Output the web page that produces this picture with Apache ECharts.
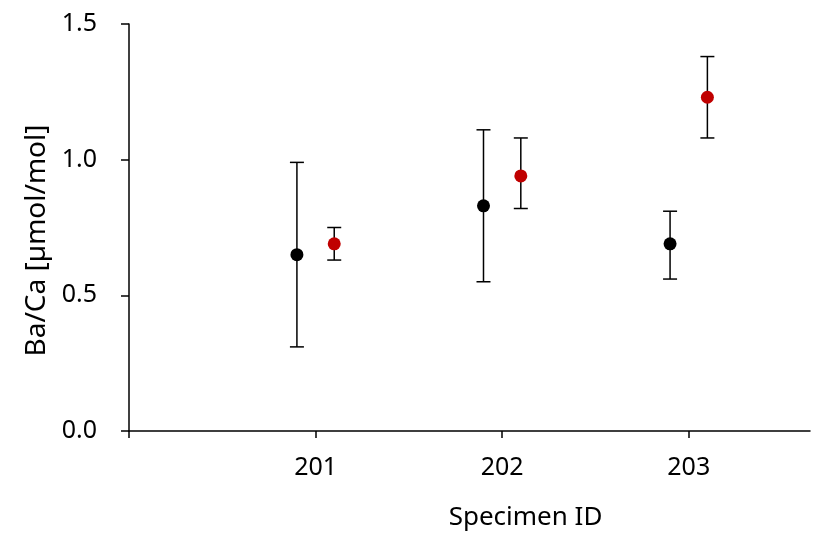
<!DOCTYPE html>
<html>
<head>
<meta charset="utf-8">
<script src="https://cdn.jsdelivr.net/npm/echarts@6/dist/echarts.min.js"></script>
<style>
  html, body { margin: 0; padding: 0; background: #fff; }
  #chart { width: 815px; height: 539px; }
</style>
</head>
<body>
<div id="chart"></div>
<script>
// specimen ids and Ba/Ca values (mean, lower and upper error bar ends)
const specimens = [201, 202, 203];
const blackMean = [0.65, 0.83, 0.69];
const blackLow = [0.31, 0.55, 0.56];
const blackHigh = [0.99, 1.11, 0.81];
const redMean = [0.69, 0.94, 1.23];
const redLow = [0.63, 0.82, 1.08];
const redHigh = [0.75, 1.08, 1.38];
const yTicks = [0, 0.5, 1.0, 1.5];

const shift = 0.1; // black left of the id, red right of it

const blackPts = specimens.map((s, i) => [s - shift, blackMean[i]]);
const redPts = specimens.map((s, i) => [s + shift, redMean[i]]);
const blackErr = specimens.map((s, i) => [s - shift, blackLow[i], blackHigh[i]]);
const redErr = specimens.map((s, i) => [s + shift, redLow[i], redHigh[i]]);

const font = 'Noto Sans';

function errorBar(params, api) {
  const x = api.value(0);
  const lo = api.coord([x, api.value(1)]);
  const hi = api.coord([x, api.value(2)]);
  const w = 7;
  const style = { stroke: '#000', lineWidth: 1.5 };
  return {
    type: 'group',
    children: [
      { type: 'line', shape: { x1: lo[0], y1: lo[1], x2: hi[0], y2: hi[1] }, style },
      { type: 'line', shape: { x1: hi[0] - w, y1: hi[1], x2: hi[0] + w, y2: hi[1] }, style },
      { type: 'line', shape: { x1: lo[0] - w, y1: lo[1], x2: lo[0] + w, y2: lo[1] }, style }
    ]
  };
}

const chart = echarts.init(document.getElementById('chart'));
chart.setOption({
  animation: false,
  backgroundColor: '#fff',
  grid: { left: 129, top: 24, right: 5, bottom: 108 },
  xAxis: {
    type: 'value',
    min: 200,
    max: 203.65,
    interval: 1,
    name: 'Specimen ID',
    nameLocation: 'middle',
    nameGap: 74,
    nameTextStyle: { fontFamily: font, fontSize: 26, color: '#000', padding: [0, 0, 0, 112] },
    axisLine: { lineStyle: { color: '#000', width: 1.5 } },
    axisTick: { show: true, length: 7, lineStyle: { color: '#000', width: 1.5 }, customValues: [200].concat(specimens) },
    axisLabel: { customValues: specimens, fontFamily: font, fontSize: 25, color: '#000', margin: 24 },
    splitLine: { show: false }
  },
  yAxis: {
    type: 'value',
    min: yTicks[0],
    max: yTicks[yTicks.length - 1],
    interval: 0.5,
    name: 'Ba/Ca [µmol/mol]',
    nameLocation: 'middle',
    nameGap: 78,
    nameTextStyle: { fontFamily: font, fontSize: 28, color: '#000', padding: [0, 26, 0, 0] },
    axisLine: { show: true, lineStyle: { color: '#000', width: 1.5 } },
    axisTick: { show: true, length: 8, lineStyle: { color: '#000', width: 1.5 } },
    axisLabel: { fontFamily: font, fontSize: 25, color: '#000', margin: 32, formatter: v => v.toFixed(1) },
    splitLine: { show: false }
  },
  series: [
    { type: 'custom', renderItem: errorBar, data: blackErr, encode: { x: 0, y: [1, 2] }, z: 1 },
    { type: 'custom', renderItem: errorBar, data: redErr, encode: { x: 0, y: [1, 2] }, z: 1 },
    { type: 'scatter', data: blackPts, symbolSize: 13, itemStyle: { color: '#000', opacity: 1 }, z: 3 },
    { type: 'scatter', data: redPts, symbolSize: 13, itemStyle: { color: '#c00000', opacity: 1 }, z: 3 }
  ]
});
</script>
</body>
</html>
